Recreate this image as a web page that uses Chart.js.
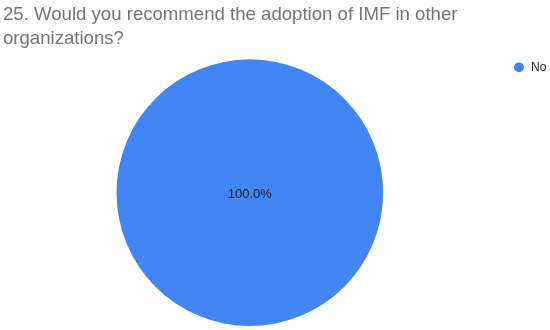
<!DOCTYPE html>
<html>
<head>
<meta charset="utf-8">
<script src="https://cdn.jsdelivr.net/npm/chart.js@4/dist/chart.umd.min.js"></script>
<style>
  html, body { margin: 0; padding: 0; background: #fff; }
  #wrap { width: 550px; height: 330px; }
</style>
</head>
<body>
<div id="wrap"><canvas id="myChart"></canvas></div>
<script>
// survey answers
const answerLabels = ["No"];
const answerCounts = [1];
const sliceColors = ["#4285f4"];
const titleLines = ["25. Would you recommend the adoption of IMF in other", "organizations?"];

// draws the percentage text on each slice
const percentLabels = {
  id: "percentLabels",
  afterDatasetsDraw(chart) {
    const ctx = chart.ctx;
    const meta = chart.getDatasetMeta(0);
    const total = answerCounts.reduce((a, b) => a + b, 0);
    ctx.save();
    ctx.font = "13px 'Liberation Sans', Arial, sans-serif";
    ctx.fillStyle = "#222222";
    ctx.textAlign = "center";
    ctx.textBaseline = "middle";
    meta.data.forEach((arc, i) => {
      const p = arc.getProps(["x", "y", "circumference"], true);
      let pos = { x: p.x, y: p.y };
      if (p.circumference < Math.PI * 2 - 0.001) {
        pos = arc.tooltipPosition(true);
      }
      const pct = (answerCounts[i] / total * 100).toFixed(1) + "%";
      ctx.fillText(pct, pos.x, pos.y + 2);
    });
    ctx.restore();
  }
};

// legend sits a bit further right than the chart area edge
const legendNudge = {
  id: "legendNudge",
  afterLayout(chart) {
    const lg = chart.legend;
    if (!lg) return;
    const dx = 511 - lg.left;
    lg.left += dx;
    lg.right += dx;
  }
};

const ctx = document.getElementById("myChart").getContext("2d");
const myChart = new Chart(ctx, {
  type: "pie",
  data: {
    labels: answerLabels,
    datasets: [
      {
        data: answerCounts,
        backgroundColor: sliceColors,
        borderWidth: 0,
      },
    ],
  },
  options: {
    responsive: true,
    maintainAspectRatio: false,
    animation: false,
    layout: {
      padding: { top: 0, bottom: 4, left: 3, right: 8 },
    },
    plugins: {
      tooltip: { enabled: false },
      title: {
        display: true,
        text: titleLines,
        align: "start",
        color: "#757575",
        font: { family: "'Liberation Sans', Arial, sans-serif", size: 18.6, weight: "normal", lineHeight: 1.3 },
        padding: { top: 3, bottom: 8 },
      },
      legend: {
        position: "right",
        align: "start",
        fullSize: false,
        labels: {
          usePointStyle: true,
          pointStyle: "circle",
          boxWidth: 16,
          boxHeight: 7,
          padding: 2,
          color: "#222222",
          font: { family: "'Liberation Sans', Arial, sans-serif", size: 12 },
        },
      },
    },
  },
  plugins: [percentLabels, legendNudge],
});
</script>
</body>
</html>
